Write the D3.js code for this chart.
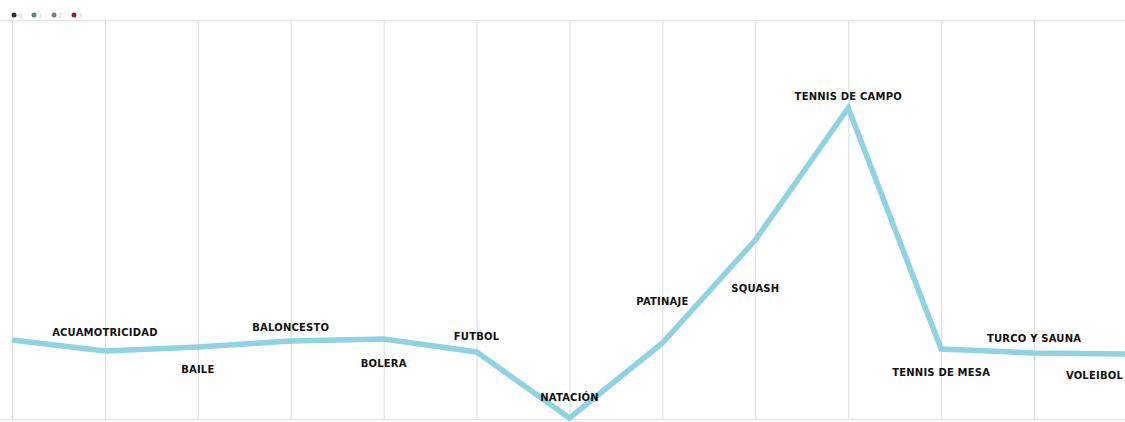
<!DOCTYPE html>
<html>
<head>
<meta charset="utf-8">
<script src="https://cdn.jsdelivr.net/npm/d3@7"></script>
<style>
html,body{margin:0;padding:0;background:#fff;overflow:hidden;}
svg{display:block;}
</style>
</head>
<body>
<svg id="chart" width="1125" height="422"></svg>
<script>
// Data
const categories = ["", "ACUAMOTRICIDAD", "BAILE", "BALONCESTO", "BOLERA", "FUTBOL", "NATACIÓN",
  "PATINAJE", "SQUASH", "TENNIS DE CAMPO", "TENNIS DE MESA", "TURCO Y SAUNA", "VOLEIBOL"];
const values = [80, 69, 73, 79, 81, 68, 2, 77, 180, 312, 71, 67, 66];
const labelSide = ["none", "up", "down", "up", "down", "up", "inside", "up", "down", "up", "down", "up", "down"];
const legendLabels = ["0", "1", "2", "3"];
const legendColors = ["#2b2b3b", "#5f8378", "#7c7c7c", "#7b2535"];
const legendTextColors = ["#f3c9d6", "#bfe6dc", "#d8d8d8", "#f3c6d3"];

(function () {
const svg = d3.select("#chart");
const W = 1125;
const plotTop = 20, plotBottom = 420;

const idx = categories.map((c, i) => i);
const x = d3.scalePoint().domain(idx).range([12, 1127]);
const y = d3.scaleLinear().domain([0, 400]).range([plotBottom, plotTop]);

// frame lines
svg.append("line").attr("x1", 0).attr("x2", W).attr("y1", plotTop + 0.5).attr("y2", plotTop + 0.5)
  .attr("stroke", "#e4e4e4").attr("stroke-width", 1);
svg.append("line").attr("x1", 0).attr("x2", W).attr("y1", plotBottom - 0.5).attr("y2", plotBottom - 0.5)
  .attr("stroke", "#e4e4e4").attr("stroke-width", 1);

// vertical grid via axis
const gridAxis = d3.axisBottom(x).tickSize(-(plotBottom - plotTop)).tickFormat("");
const g = svg.append("g").attr("transform", `translate(0,${plotBottom})`).call(gridAxis);
g.select(".domain").remove();
g.selectAll(".tick line").attr("stroke", "#dcdcdc").attr("stroke-width", 1);

// line
const line = d3.line().x((d, i) => x(i)).y(d => y(d));
svg.append("path").datum(values)
  .attr("d", line)
  .attr("fill", "none")
  .attr("stroke", "#8fd3e2")
  .attr("stroke-width", 5.5)
  .attr("stroke-linejoin", "miter");

// line y at arbitrary px (piecewise linear)
function lineY(px) {
  const xs = idx.map(i => x(i));
  if (px <= xs[0]) return y(values[0]);
  for (let k = 1; k < xs.length; k++) {
    if (px <= xs[k]) {
      const t = (px - xs[k - 1]) / (xs[k] - xs[k - 1]);
      return y(values[k - 1]) + t * (y(values[k]) - y(values[k - 1]));
    }
  }
  return y(values[values.length - 1]);
}

// labels, placed clear of the line
const labels = svg.append("g").selectAll("text").data(idx.filter(i => labelSide[i] !== "none"))
  .join("text")
  .attr("text-anchor", "middle")
  .attr("font-family", "DejaVu Sans, sans-serif")
  .attr("font-weight", "bold")
  .attr("font-size", 10)
  .attr("letter-spacing", 0.2)
  .attr("fill", "#111")
  .text(i => categories[i]);

labels.each(function (i) {
  const w = this.getComputedTextLength();
  let cx = x(i);
  const maxRight = W - 2;
  if (cx + w / 2 > maxRight) cx = maxRight - w / 2;
  const ys = d3.range(cx - w / 2, cx + w / 2, 2).map(lineY);
  let by;
  if (labelSide[i] === "up") by = d3.min(ys) - 9;
  else if (labelSide[i] === "down") by = d3.max(ys) + 25;
  else by = y(values[i]) - 17;
  d3.select(this).attr("x", cx).attr("y", by);
});

// legend
const lg = svg.append("g").selectAll("g").data(legendLabels).join("g")
  .attr("transform", (d, i) => `translate(${14 + i * 20},15)`);
lg.append("circle").attr("r", 2.5).attr("fill", (d, i) => legendColors[i]);
lg.append("text").attr("x", 4).attr("y", 2.5).attr("font-size", 7)
  .attr("font-family", "DejaVu Sans, sans-serif")
  .attr("fill", (d, i) => legendTextColors[i]).text(d => d);
})();
</script>
</body>
</html>
